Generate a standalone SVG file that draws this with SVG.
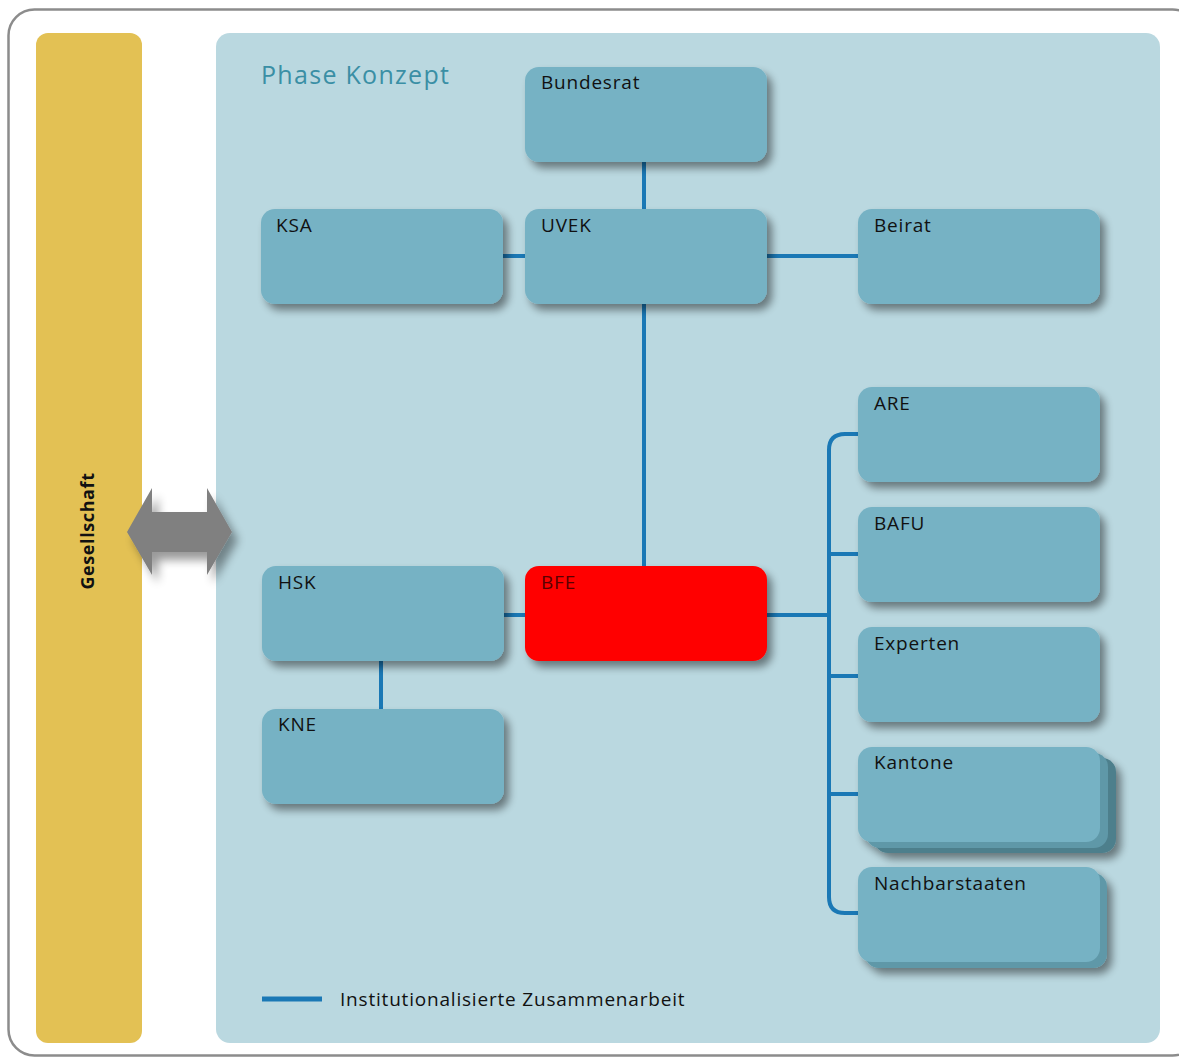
<svg xmlns="http://www.w3.org/2000/svg" width="1179" height="1060" viewBox="0 0 1179 1060">
<defs>
<filter id="sh" x="-10%" y="-10%" width="130%" height="140%">
<feGaussianBlur in="SourceAlpha" stdDeviation="4"/>
<feOffset dx="5" dy="6" result="b"/>
<feComponentTransfer><feFuncA type="linear" slope="0.45"/></feComponentTransfer>
<feMerge><feMergeNode/><feMergeNode in="SourceGraphic"/></feMerge>
</filter>
<filter id="ash" x="-20%" y="-30%" width="150%" height="170%">
<feGaussianBlur in="SourceAlpha" stdDeviation="5"/>
<feOffset dx="6" dy="8" result="b"/>
<feComponentTransfer><feFuncA type="linear" slope="0.4"/></feComponentTransfer>
<feMerge><feMergeNode/><feMergeNode in="SourceGraphic"/></feMerge>
</filter>
</defs>
<style>
.box{fill:#76b2c4}
.red{fill:#ff0000}
.l1{fill:#5f98a8}
.l2{fill:#4d7f8c}
.lbl{font-family:"Open Sans","Noto Sans",sans-serif;font-size:19px;letter-spacing:0.8px;fill:#111}
.con{stroke:#1a78b5;stroke-width:4;fill:none}
</style>
<rect x="0" y="0" width="1179" height="1060" fill="#ffffff"/>
<rect x="8.5" y="9.5" width="1190" height="1046" rx="26" fill="none" stroke="#8c8c8c" stroke-width="2.5"/>
<rect x="36" y="33" width="106" height="1010" rx="12" fill="#e3c154"/>
<text x="94" y="531" text-anchor="middle" transform="rotate(-90 94 531)" font-family="Open Sans, Noto Sans, sans-serif" font-weight="bold" font-size="18" letter-spacing="0.6" fill="#111">Gesellschaft</text>
<rect x="216" y="33" width="944" height="1010" rx="14" fill="#bad8e0"/>
<text x="261" y="84" font-family="Open Sans, Noto Sans, sans-serif" font-size="25" letter-spacing="1.3" fill="#3a8fa5">Phase Konzept</text>
<g id="arrow" filter="url(#ash)">
<polygon points="127,532 152,488 152,512 207,512 207,488 232,532 207,575 207,552 152,552 152,575" fill="#808080"/>
</g>
<g id="connectors">
<line class="con" x1="644" y1="160" x2="644" y2="211"/>
<line class="con" x1="501" y1="256" x2="527" y2="256"/>
<line class="con" x1="765" y1="256" x2="860" y2="256"/>
<line class="con" x1="644" y1="302" x2="644" y2="568"/>
<line class="con" x1="502" y1="615" x2="527" y2="615"/>
<line class="con" x1="381" y1="659" x2="381" y2="711"/>
<line class="con" x1="765" y1="615" x2="829" y2="615"/>
<path class="con" d="M860,434 H845 Q829,434 829,450 V897 Q829,913 845,913 H860"/>
<line class="con" x1="829" y1="554" x2="860" y2="554"/>
<line class="con" x1="829" y1="676" x2="860" y2="676"/>
<line class="con" x1="829" y1="794" x2="860" y2="794"/>
</g>
<g id="bundesrat"><rect class="box" x="525" y="67" width="242" height="95" rx="14" filter="url(#sh)"/><text class="lbl" x="541" y="89">Bundesrat</text></g>
<g id="ksa"><rect class="box" x="261" y="209" width="242" height="95" rx="14" filter="url(#sh)"/><text class="lbl" x="276" y="232">KSA</text></g>
<g id="uvek"><rect class="box" x="525" y="209" width="242" height="95" rx="14" filter="url(#sh)"/><text class="lbl" x="541" y="232">UVEK</text></g>
<g id="beirat"><rect class="box" x="858" y="209" width="242" height="95" rx="14" filter="url(#sh)"/><text class="lbl" x="874" y="232">Beirat</text></g>
<g id="are"><rect class="box" x="858" y="387" width="242" height="95" rx="14" filter="url(#sh)"/><text class="lbl" x="874" y="410">ARE</text></g>
<g id="bafu"><rect class="box" x="858" y="507" width="242" height="95" rx="14" filter="url(#sh)"/><text class="lbl" x="874" y="530">BAFU</text></g>
<g id="experten"><rect class="box" x="858" y="627" width="242" height="95" rx="14" filter="url(#sh)"/><text class="lbl" x="874" y="650">Experten</text></g>
<g id="kantone">
<g filter="url(#sh)">
<rect class="l2" x="874" y="758" width="242" height="95" rx="14"/>
<rect class="l1" x="866" y="753" width="242" height="95" rx="14"/>
<rect class="box" x="858" y="747" width="242" height="95" rx="14"/>
</g>
<text class="lbl" x="874" y="769">Kantone</text></g>
<g id="nachbarstaaten">
<g filter="url(#sh)">
<rect class="l1" x="865" y="873" width="242" height="95" rx="14"/>
<rect class="box" x="858" y="867" width="242" height="95" rx="14"/>
</g>
<text class="lbl" x="874" y="890">Nachbarstaaten</text></g>
<g id="hsk"><rect class="box" x="262" y="566" width="242" height="95" rx="14" filter="url(#sh)"/><text class="lbl" x="278" y="589">HSK</text></g>
<g id="bfe"><rect class="red" x="525" y="566" width="242" height="95" rx="14" filter="url(#sh)"/><text class="lbl" x="541" y="589" style="fill:#5a0000">BFE</text></g>
<g id="kne"><rect class="box" x="262" y="709" width="242" height="95" rx="14" filter="url(#sh)"/><text class="lbl" x="278" y="731">KNE</text></g>
<g id="legend">
<line x1="262" y1="999" x2="322" y2="999" stroke="#1a78b5" stroke-width="5"/>
<text class="lbl" x="340" y="1006">Institutionalisierte Zusammenarbeit</text>
</g>
</svg>
